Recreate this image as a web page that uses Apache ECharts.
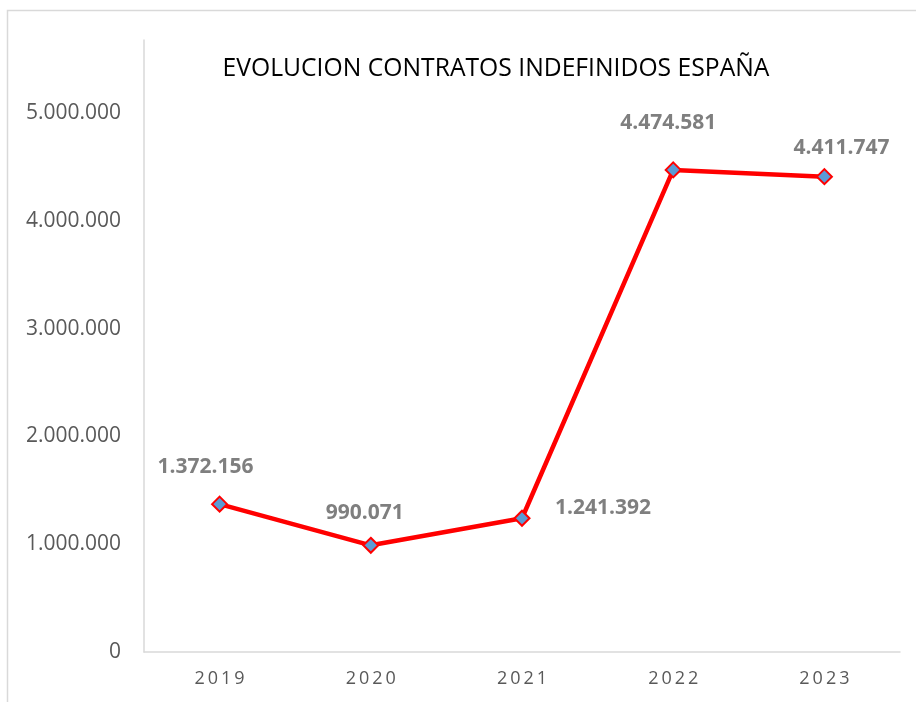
<!DOCTYPE html>
<html>
<head>
<meta charset="utf-8">
<script src="https://cdn.jsdelivr.net/npm/echarts@6/dist/echarts.min.js"></script>
<style>
  html, body { margin: 0; padding: 0; background: #fff; }
  #main { width: 916px; height: 702px; }
</style>
</head>
<body>
<div id="main"></div>
<script>
// datos
var years = ['2019', '2020', '2021', '2022', '2023'];
var contratos = [1372156, 990071, 1241392, 4474581, 4411747];
var yTicks = [0, 1000000, 2000000, 3000000, 4000000, 5000000];

// formato español con puntos de miles
var fmt = function(v) {
  return String(Math.round(v)).replace(/\B(?=(\d{3})+(?!\d))/g, '.');
};

// desplazamiento de cada etiqueta respecto al marcador
var labelOffsets = [[-14, -37], [-6, -32], [81, -10], [-5, -47], [17, -29]];

var chart = echarts.init(document.getElementById('main'));
chart.setOption({
  animation: false,
  title: {
    text: 'EVOLUCION CONTRATOS INDEFINIDOS ESPAÑA',
    left: 491,
    top: 51,
    textAlign: 'center',
    textStyle: {
      fontFamily: 'Open Sans',
      fontSize: 24.7,
      fontWeight: 'normal',
      color: '#000'
    }
  },
  graphic: [{
    type: 'rect',
    shape: { x: 7.5, y: 10.5, width: 950, height: 750 },
    style: { fill: 'none', stroke: '#d9d9d9', lineWidth: 1.5 },
    silent: true
  }],
  grid: { left: 144, right: 16, top: 40, bottom: 50 },
  xAxis: {
    type: 'category',
    data: years,
    boundaryGap: true,
    axisLine: { lineStyle: { color: '#d9d9d9', width: 1.5 } },
    axisTick: { show: false },
    axisLabel: {
      margin: 18,
      color: '#595959',
      fontFamily: 'Open Sans',
      fontSize: 18,
      formatter: function(v) { return v.split('').join('\u2009'); }
    }
  },
  yAxis: {
    type: 'value',
    min: yTicks[0],
    max: 5680000,
    interval: yTicks[1] - yTicks[0],
    axisLine: { show: true, lineStyle: { color: '#d9d9d9', width: 1.5 } },
    axisTick: { show: false },
    splitLine: { show: false },
    axisLabel: {
      margin: 23,
      showMaxLabel: false,
      color: '#595959',
      fontFamily: 'Open Sans',
      fontSize: 21,
      formatter: function(v) { return yTicks.indexOf(v) >= 0 ? fmt(v) : ''; }
    }
  },
  series: [{
    type: 'line',
    data: contratos.map(function(v, i) {
      return {
        value: v,
        label: { offset: labelOffsets[i] }
      };
    }),
    lineStyle: { color: '#ff0000', width: 4.5 },
    symbol: 'diamond',
    symbolSize: 15,
    itemStyle: { color: '#5b9bd5', borderColor: '#ff0000', borderWidth: 2 },
    label: {
      show: true,
      position: 'inside',
      color: '#7f7f7f',
      fontFamily: 'Open Sans',
      fontWeight: 'bold',
      fontSize: 21,
      formatter: function(p) { return fmt(p.value); }
    }
  }]
});
</script>
</body>
</html>
